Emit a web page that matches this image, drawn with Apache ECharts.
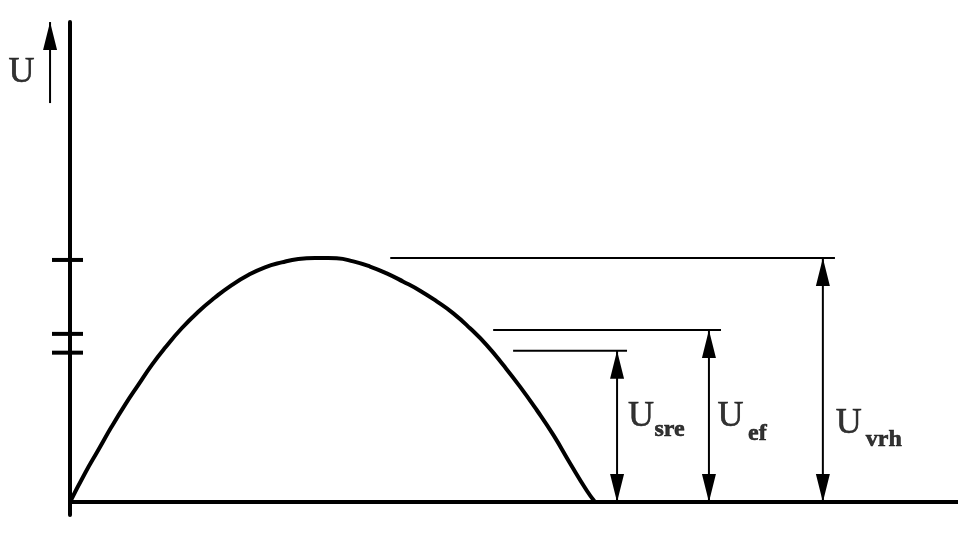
<!DOCTYPE html>
<html>
<head>
<meta charset="utf-8">
<script src="https://cdn.jsdelivr.net/npm/echarts@6/dist/echarts.min.js"></script>
<style>
html,body{margin:0;padding:0;background:#fff;}
#c{width:968px;height:541px;}
</style>
</head>
<body>
<div id="c"></div>
<script>
// ---- data (time in ms of a half period, voltage relative to peak) ----
const curveT = [0,0.286,0.539,0.794,1.048,1.301,1.556,1.810,2.128,2.444,2.762,3.080,3.396,3.714,4.032,4.349,4.667,4.920,5.080,5.396,5.714,6.032,6.349,6.667,6.985,7.301,7.619,7.937,8.253,8.571,8.890,9.206,9.524,9.842,10.0];
const curveU = [0,0.118,0.213,0.309,0.398,0.480,0.561,0.632,0.712,0.780,0.838,0.889,0.930,0.962,0.982,0.996,1.0,1.0,0.999,0.986,0.965,0.937,0.903,0.866,0.822,0.773,0.712,0.643,0.561,0.473,0.377,0.275,0.159,0.047,0];

const levelNames  = ['sre','ef','vrh'];
const levelValues = [0.620, 0.705, 1.0];
const levelStartT = [8.44, 8.06, 6.10];
const levelEndT   = [10.61, 12.40, 14.57];
const arrowT      = [10.42, 12.17, 14.34];

const yTickValues = [0.992, 0.689, 0.612];
const axisArrowT = -0.38;
const axisArrowFrom = 1.635;
const axisArrowTo = 1.967;
const mainSymbol = 'U';

// ---- styles / layout ----
const X_MIN = -1.3333, X_MAX = 16.914, Y_MIN = -0.0533, Y_MAX = 1.9672;
const FONT = '"Liberation Serif", "Times New Roman", serif';
const U_SIZE = 36, SUB_SIZE = 24;
const uOffsets   = [[24,-9.4],[21.5,1],[26,44]];
const subOffsets = [[52.5,3.6],[48.5,18],[61,59.5]];
const axisLabelOffset = [-28.5, 9.5];
const UP = 'path://M7,0 L14,28 L0,28 Z';
const DOWN = 'path://M0,0 L14,0 L7,28 Z';
const INK = {color:'#000', opacity:1};
const TEXT = {color:'#000', fontFamily:FONT, textBorderColor:'#000', textBorderWidth:0.6};

const series = [];
// baseline (time axis)
series.push({type:'line', data:[[0,0],[X_MAX,0]], symbol:'none',
  lineStyle:{color:'#000', width:4}, z:3});
// curve
series.push({
  type:'line', data: curveT.map((t,i)=>[t,curveU[i]]), smooth:true, symbol:'none',
  lineStyle:{color:'#000', width:4}, z:5
});
// y-axis tick marks
series.push({
  type:'scatter', data: yTickValues.map(v=>[0,v]), symbol:'rect', symbolSize:[31,4],
  symbolOffset:[-2.5,0], itemStyle:INK, clip:false, z:6
});
// level lines and arrows
levelValues.forEach((v,i)=>{
  series.push({type:'line', data:[[levelStartT[i],v],[levelEndT[i],v]], symbol:'none',
    lineStyle:{color:'#000', width:2}, z:4});
  series.push({type:'line', data:[[arrowT[i],0],[arrowT[i],v]], symbol:'none',
    lineStyle:{color:'#000', width:2}, z:4});
  series.push({type:'scatter', data:[[arrowT[i],v]], symbol:UP, symbolSize:[14,28],
    symbolOffset:[0,14], itemStyle:INK, z:7, clip:false});
  series.push({type:'scatter', data:[[arrowT[i],0]], symbol:DOWN, symbolSize:[14,28],
    symbolOffset:[0,-14], itemStyle:INK, z:7, clip:false});
  const mid = [arrowT[i], v/2];
  series.push({type:'scatter', symbolSize:1, itemStyle:{color:'transparent'}, clip:false, z:8,
    label:Object.assign({show:true, position:'inside',
      formatter:(p)=> p.dataIndex===0 ? mainSymbol : levelNames[i]}, TEXT),
    emphasis:{disabled:true},
    data: [
      {value: mid, label:{offset:uOffsets[i], fontSize:U_SIZE}},
      {value: mid, label:{offset:subOffsets[i], fontSize:SUB_SIZE, fontWeight:'bold'}}
    ]
  });
});
// U axis arrow
series.push({type:'line', data:[[axisArrowT,axisArrowFrom],[axisArrowT,axisArrowTo]], symbol:'none',
  lineStyle:{color:'#000', width:2}, z:4});
series.push({type:'scatter', data:[[axisArrowT,axisArrowTo]], symbol:UP, symbolSize:[14,28],
  symbolOffset:[0,14], itemStyle:INK, clip:false, z:7});
series.push({type:'scatter', symbolSize:1, itemStyle:{color:'transparent'}, clip:false, z:8,
  emphasis:{disabled:true},
  data:[{value:[axisArrowT,(axisArrowFrom+axisArrowTo)/2],
    label:Object.assign({show:true, position:'inside', offset:axisLabelOffset, formatter:mainSymbol,
      fontSize:U_SIZE}, TEXT)}]});

const chart = echarts.init(document.getElementById('c'), null, {renderer:'canvas'});
chart.setOption({
  animation:false,
  backgroundColor:'#fff',
  grid:{left:0, right:10, top:22, bottom:26, containLabel:false},
  xAxis:{type:'value', min:X_MIN, max:X_MAX,
    axisLine:{show:false},
    axisTick:{show:false}, axisLabel:{show:false}, splitLine:{show:false}},
  yAxis:{type:'value', min:Y_MIN, max:Y_MAX,
    axisLine:{show:true, onZero:true, lineStyle:{color:'#000', width:4}},
    axisTick:{show:false}, axisLabel:{show:false}, splitLine:{show:false}},
  tooltip:{show:false},
  series: series
});
</script>
</body>
</html>
